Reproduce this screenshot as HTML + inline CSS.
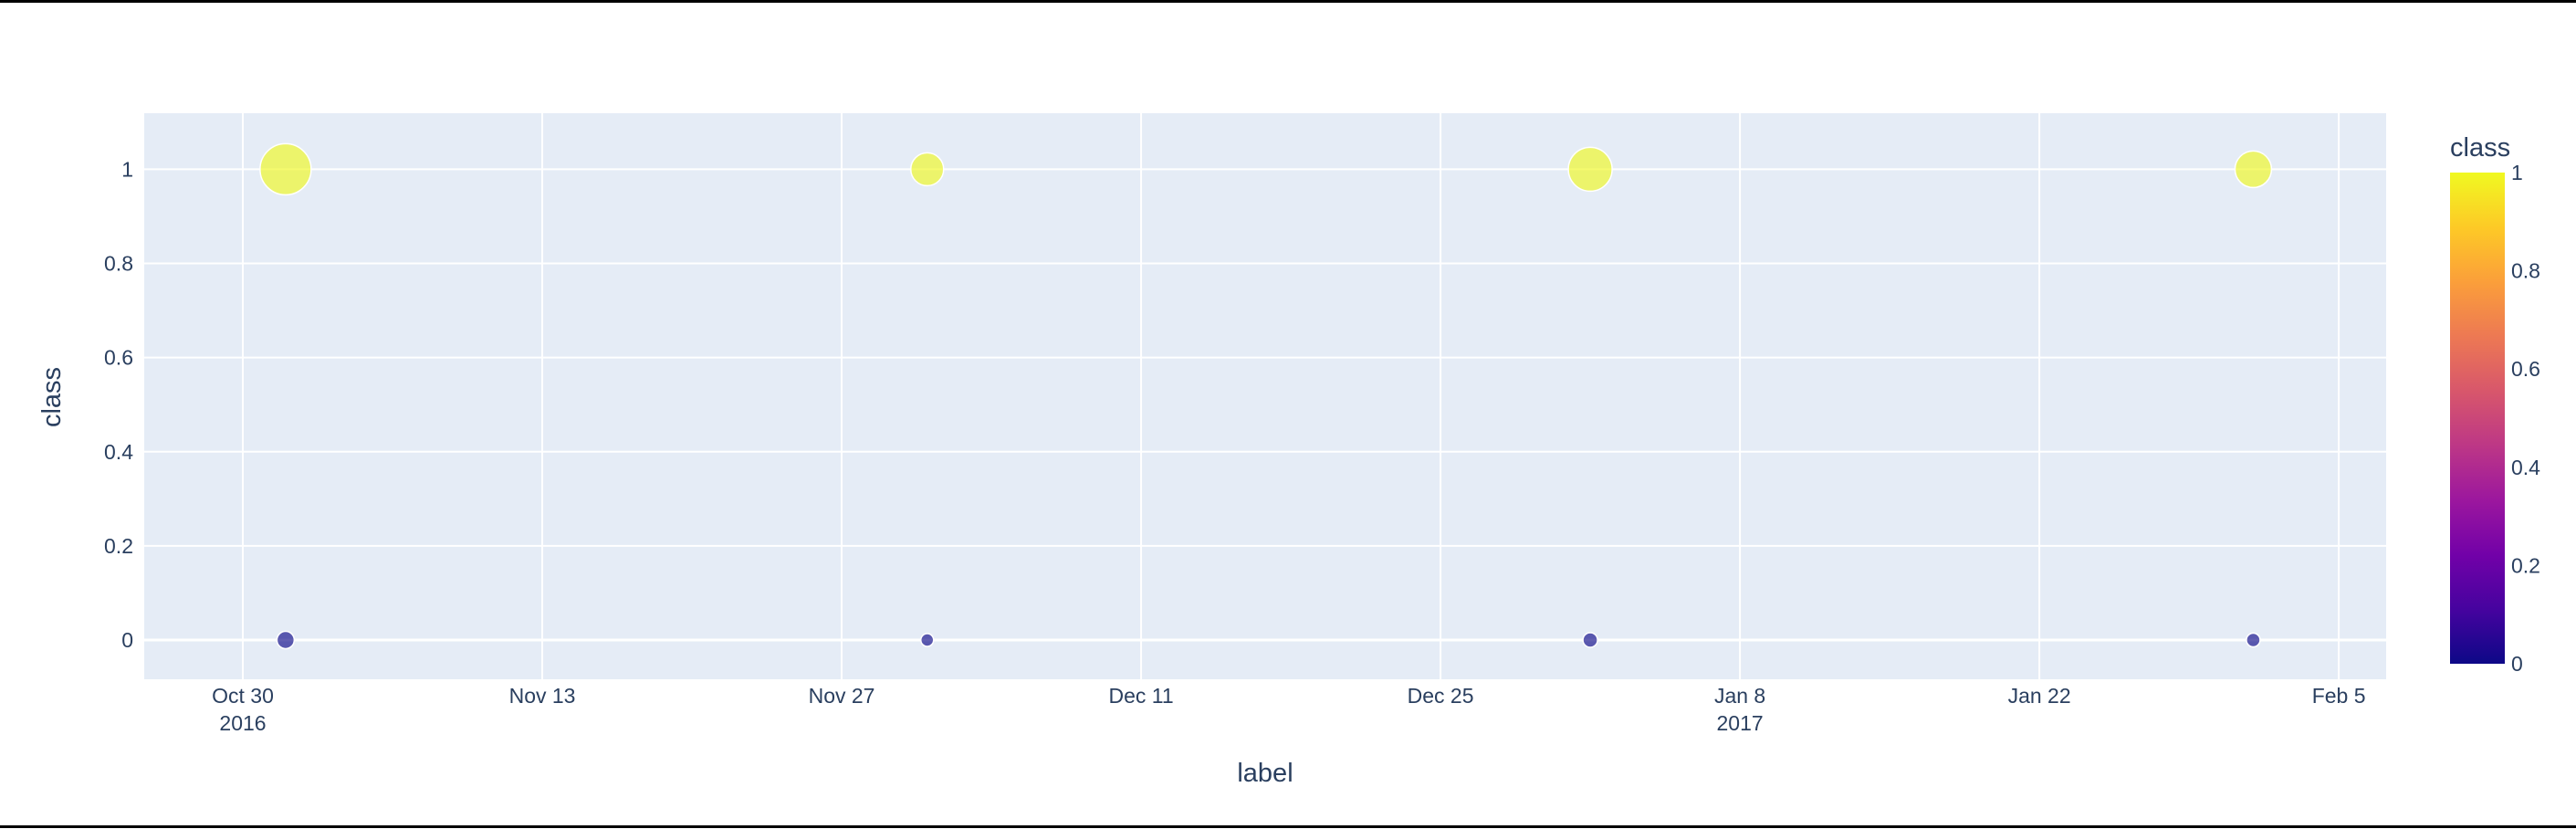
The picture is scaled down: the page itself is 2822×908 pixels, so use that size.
<!DOCTYPE html>
<html><head><meta charset="utf-8"><style>
html,body{margin:0;padding:0;background:#fff;}
svg{display:block;font-family:"Liberation Sans",sans-serif;}
</style></head><body>
<svg id="chart" width="2822" height="908">
<defs><linearGradient id="plasma" x1="0" y1="1" x2="0" y2="0">
<stop offset="0" stop-color="#0d0887"/><stop offset="0.111" stop-color="#46039f"/><stop offset="0.222" stop-color="#7201a8"/><stop offset="0.333" stop-color="#9c179e"/><stop offset="0.444" stop-color="#bd3786"/><stop offset="0.556" stop-color="#d8576b"/><stop offset="0.667" stop-color="#ed7953"/><stop offset="0.778" stop-color="#fb9f3a"/><stop offset="0.889" stop-color="#fdca26"/><stop offset="1" stop-color="#f0f921"/>
</linearGradient></defs>
<rect x="0" y="0" width="2822" height="3" fill="#000"/>
<rect x="0" y="904" width="2822" height="3" fill="#000"/>
<rect x="158" y="124" width="2456" height="620" fill="#e5ecf6"/>
<g id="grid"></g><g id="marks"></g><g id="labels"></g>
<text x="66" y="435" font-size="29" fill="#2a3f5f" text-anchor="middle" transform="rotate(-90 66 435)">class</text>
<text x="1386" y="856" font-size="29" fill="#2a3f5f" text-anchor="middle">label</text>
<text x="2684" y="171" font-size="29" fill="#2a3f5f">class</text>
<rect x="2684" y="189" width="60" height="538" fill="url(#plasma)"/>
<g id="cbticks"></g>
</svg>
<script>
const dates = ["2016-11-01","2016-12-01","2017-01-01","2017-02-01","2016-11-01","2016-12-01","2017-01-01","2017-02-01"];
const classes = [1,1,1,1,0,0,0,0];
const radii = [28,18,24,20,9.5,7,8,7.5];
const yTicks = [0,0.2,0.4,0.6,0.8,1];
const xTickDates = ["2016-10-30","2016-11-13","2016-11-27","2016-12-11","2016-12-25","2017-01-08","2017-01-22","2017-02-05"];
const xTickLabels = ["Oct 30","Nov 13","Nov 27","Dec 11","Dec 25","Jan 8","Jan 22","Feb 5"];
const xTickSub = ["2016","","","","","2017","",""];
const cbTicks = [0,0.2,0.4,0.6,0.8,1];

const NS="http://www.w3.org/2000/svg";
const day=86400000, t0=Date.parse("2016-10-30");
function xs(d){return 266+(Date.parse(d)-t0)/day*23.43;}
function ys(v){return 701-v*515.6;}
function mk(tag,attrs,parent){const e=document.createElementNS(NS,tag);for(const k in attrs)e.setAttribute(k,attrs[k]);document.getElementById(parent).appendChild(e);return e;}
yTicks.forEach(v=>{
  const l=mk('line',{x1:158,x2:2614,y1:ys(v),y2:ys(v),stroke:'#fff','stroke-width':v===0?3:2},'grid');
  
  
  const t=mk('text',{x:146,y:ys(v)+8,'font-size':23,fill:'#2a3f5f','text-anchor':'end'},'labels');
  t.textContent=String(v);
  
  
});
xTickDates.forEach((d,i)=>{
  const x=xs(d);
  const l=mk('line',{x1:x,x2:x,y1:124,y2:744,stroke:'#fff','stroke-width':2},'grid');
  
  
  const t=mk('text',{x:x,y:770,'font-size':23,fill:'#2a3f5f','text-anchor':'middle'},'labels');
  t.textContent=xTickLabels[i];
  
  
  if(xTickSub[i]){
    const s=mk('text',{x:x,y:800,'font-size':23,fill:'#2a3f5f','text-anchor':'middle'},'labels');
    s.textContent=xTickSub[i];
    
    
  }
});
dates.forEach((d,i)=>{
  const c=mk('circle',{cx:xs(d),cy:ys(classes[i]),r:radii[i],fill:classes[i]?'#f0f921':'#0d0887','fill-opacity':0.65,stroke:'#fff','stroke-width':1.5},'marks');
  
  
});
cbTicks.forEach(v=>{
  const t=mk('text',{x:2751,y:727-v*538+8,'font-size':23,fill:'#2a3f5f'},'cbticks');
  t.textContent=String(v);
  
  
});
</script>
</body></html>
